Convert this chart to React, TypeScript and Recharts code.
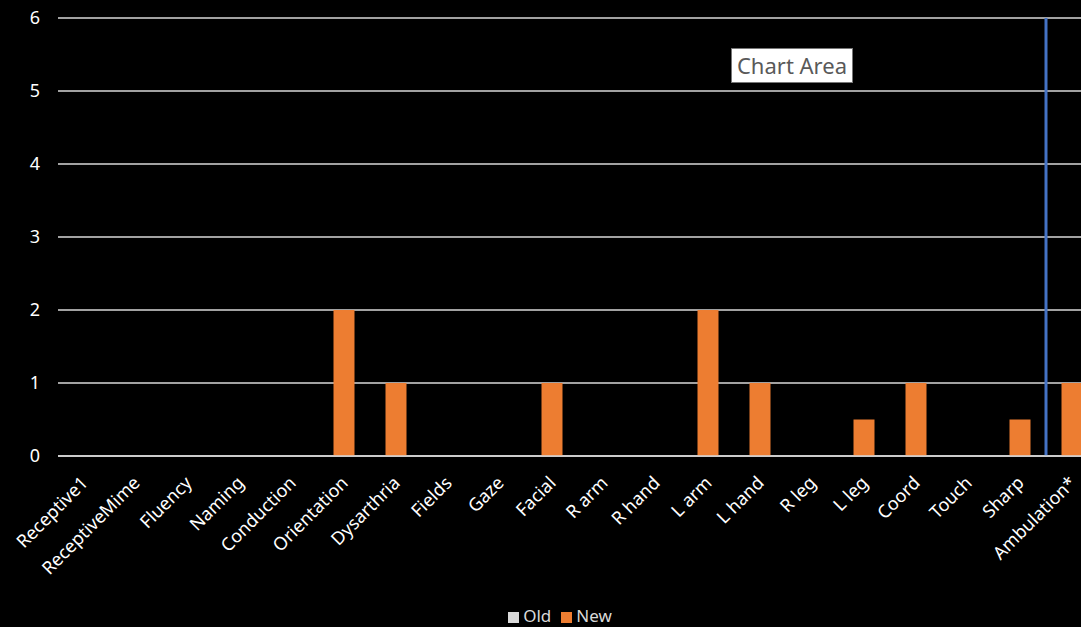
import React from 'react';
import {
  BarChart,
  Bar,
  XAxis,
  YAxis,
  CartesianGrid,
  Legend,
  ReferenceLine,
} from 'recharts';

// categories along the x axis
const categories = [
  'Receptive1', 'ReceptiveMime', 'Fluency', 'Naming', 'Conduction',
  'Orientation', 'Dysarthria', 'Fields', 'Gaze', 'Facial',
  'R arm', 'R hand', 'L arm', 'L hand', 'R leg',
  'L leg', 'Coord', 'Touch', 'Sharp', 'Ambulation*',
];

const oldScores = [0, 0, 0, 0, 0, 0, 0, 0, 0, 0, 0, 0, 0, 0, 0, 0, 0, 0, 0, 0];
const newScores = [0, 0, 0, 0, 0, 2, 1, 0, 0, 1, 0, 0, 2, 1, 0, 0.5, 1, 0, 0.5, 1];

const yTicks = [0, 1, 2, 3, 4, 5, 6];

const FONT = '"Noto Sans", "Open Sans", sans-serif';

const data = categories.map((name, i) => ({
  name,
  Old: oldScores[i],
  New: newScores[i],
}));

const legendOrder = ['Old', 'New'];

const App: React.FC = () => {
  return (
    <div
      style={{
        position: 'fixed',
        top: 0,
        left: 0,
        width: 1081,
        height: 627,
        overflow: 'hidden',
        background: '#000',
        fontFamily: FONT,
      }}
    >
      <BarChart
        width={1100}
        height={627}
        data={data}
        margin={{ top: 18, right: 2, left: 0, bottom: 0 }}
        barCategoryGap={15.5}
      >
        <CartesianGrid vertical={false} stroke="#d9d9d9" strokeWidth={1.5} />
        <XAxis
          dataKey="name"
          interval={0}
          height={149}
          axisLine={{ stroke: '#d9d9d9', strokeWidth: 1.5 }}
          tickLine={false}
          tick={{ fill: '#ffffff', fontSize: 18, fontFamily: FONT }}
          angle={-45}
          textAnchor="end"
          dx={-4}
          dy={11}
        />
        <YAxis
          width={58}
          domain={[0, 6]}
          ticks={yTicks}
          axisLine={false}
          tickLine={false}
          tickSize={0}
          tickMargin={18}
          tick={{ fill: '#ffffff', fontSize: 18, fontFamily: FONT }}
        />
        <Bar dataKey="Old" stackId="s" fill="#d9d9d9" isAnimationActive={false} />
        <Bar dataKey="New" stackId="s" fill="#ed7d31" isAnimationActive={false} />
        <ReferenceLine
          x="Ambulation*"
          position="start"
          stroke="#4472c4"
          strokeWidth={3}
        />
        <Legend
          verticalAlign="bottom"
          iconType="square"
          iconSize={11}
          itemSorter={(item: any) => legendOrder.indexOf(item.value)}
          wrapperStyle={{ left: 0, bottom: 0, width: 1130, fontSize: 17, lineHeight: '22px', color: '#d9d9d9' }}
          formatter={(value: string) => (
            <span style={{ color: '#d9d9d9' }}>{value}</span>
          )}
        />
      </BarChart>
      <div
        style={{
          position: 'absolute',
          left: 731,
          top: 48,
          width: 122,
          height: 35,
          boxSizing: 'border-box',
          background: '#fff',
          border: '1px solid #767676',
          color: '#595959',
          fontSize: 22,
          lineHeight: '33px',
          textAlign: 'center',
          fontFamily: FONT,
        }}
      >
        Chart Area
      </div>
    </div>
  );
};

export default App;
